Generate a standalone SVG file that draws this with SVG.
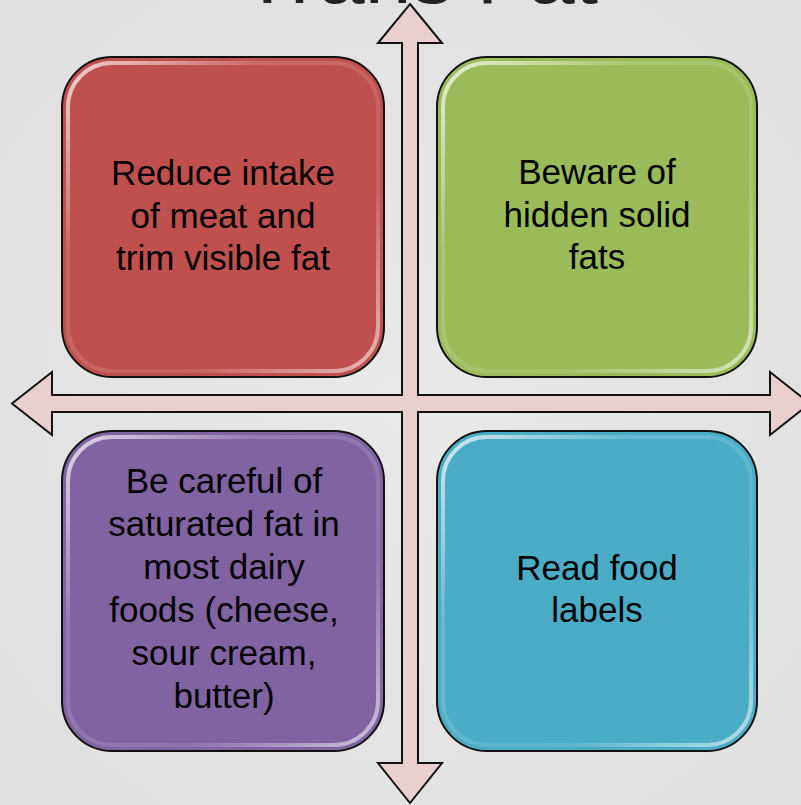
<svg xmlns="http://www.w3.org/2000/svg" width="801" height="805" viewBox="0 0 801 805">
  <defs>
    <radialGradient id="bg" cx="0.5" cy="0.5" r="0.75">
      <stop offset="0" stop-color="#e9e9e9"/>
      <stop offset="1" stop-color="#dedede"/>
    </radialGradient>
    <linearGradient id="gloss" x1="0" y1="0" x2="1" y2="1">
      <stop offset="0" stop-color="#ffffff" stop-opacity="0.75"/>
      <stop offset="0.3" stop-color="#ffffff" stop-opacity="0.15"/>
      <stop offset="0.7" stop-color="#ffffff" stop-opacity="0.1"/>
      <stop offset="1" stop-color="#ffffff" stop-opacity="0.6"/>
    </linearGradient>
    <style>
      .box { stroke: #111; stroke-width: 2; }
      .hl { fill: none; stroke: url(#gloss); stroke-width: 4; }
      .lbl { font-family: "Liberation Sans", Arial, sans-serif; font-size: 35px; fill: #000; text-anchor: middle; }
      .title { font-family: "Liberation Sans", Arial, sans-serif; font-size: 84px; fill: #222; text-anchor: middle; }
      .cross { fill: #EACFCF; stroke: #111; stroke-width: 2; stroke-linejoin: miter; }
    </style>
  </defs>
  <rect x="0" y="0" width="801" height="805" fill="url(#bg)"/>
  <text class="title" x="420" y="3">Trans Fat</text>

  <g id="connectors">
    <polygon class="cross" points="410,4 442,43 418,43 418,395 770,395 770,372 810,403.5 770,435 770,412 418,412 418,763 442,763 410,803 378,763 402,763 402,412 52,412 52,435 12,403.5 52,372 52,395 402,395 402,43 378,43"/>
  </g>

  <g id="node-reduce">
    <rect class="box" x="62" y="57" width="322" height="320" rx="50" fill="#C0504D"/>
    <rect class="hl" x="68" y="63" width="310" height="308" rx="44"/>
    <text class="lbl" x="223" y="185">Reduce intake</text>
    <text class="lbl" x="223" y="228">of meat and</text>
    <text class="lbl" x="223" y="270">trim visible fat</text>
  </g>

  <g id="node-beware">
    <rect class="box" x="437" y="57" width="320" height="320" rx="50" fill="#9BBB59"/>
    <rect class="hl" x="443" y="63" width="308" height="308" rx="44"/>
    <text class="lbl" x="597" y="184">Beware of</text>
    <text class="lbl" x="597" y="227">hidden solid</text>
    <text class="lbl" x="597" y="269">fats</text>
  </g>

  <g id="node-careful">
    <rect class="box" x="62" y="431" width="322" height="320" rx="50" fill="#8064A2"/>
    <rect class="hl" x="68" y="437" width="310" height="308" rx="44"/>
    <text class="lbl" x="224" y="493">Be careful of</text>
    <text class="lbl" x="224" y="536">saturated fat in</text>
    <text class="lbl" x="224" y="579">most dairy</text>
    <text class="lbl" x="224" y="622">foods (cheese,</text>
    <text class="lbl" x="224" y="665">sour cream,</text>
    <text class="lbl" x="224" y="708">butter)</text>
  </g>

  <g id="node-read">
    <rect class="box" x="437" y="431" width="320" height="320" rx="50" fill="#4BACC6"/>
    <rect class="hl" x="443" y="437" width="308" height="308" rx="44"/>
    <text class="lbl" x="597" y="580">Read food</text>
    <text class="lbl" x="597" y="622">labels</text>
  </g>
</svg>
